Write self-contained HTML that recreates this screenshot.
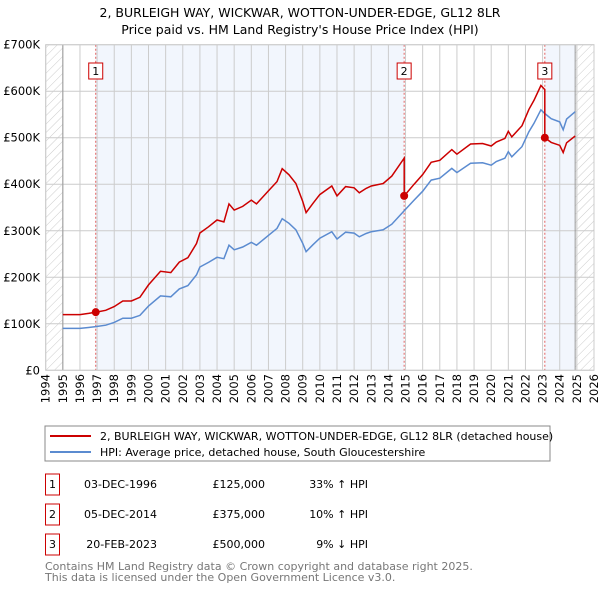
<!DOCTYPE html>
<html><head><meta charset="utf-8"><style>
body{margin:0;background:#fff;font-family:"DejaVu Sans","Liberation Sans",sans-serif;}
svg text{font-family:"DejaVu Sans","Liberation Sans",sans-serif;}
</style></head><body>
<svg id="c" width="600" height="590" viewBox="0 0 600 590" xmlns="http://www.w3.org/2000/svg">
<defs><pattern id="hatch" width="6" height="6" patternUnits="userSpaceOnUse" patternTransform="rotate(45)"><line x1="0" y1="0" x2="0" y2="6" stroke="#ccc" stroke-width="1"/></pattern></defs>
<text x="300" y="17" text-anchor="middle" font-size="12.5" fill="#000">2, BURLEIGH WAY, WICKWAR, WOTTON-UNDER-EDGE, GL12 8LR</text>
<text x="300" y="34" text-anchor="middle" font-size="12.5" fill="#000">Price paid vs. HM Land Registry's House Price Index (HPI)</text>
<g id="plot"></g>
<rect x="45" y="426" width="505" height="35" fill="#fff" stroke="#888"/>
<line x1="50" y1="436" x2="91" y2="436" stroke="#cc0000" stroke-width="2"/>
<text x="100" y="440" font-size="11">2, BURLEIGH WAY, WICKWAR, WOTTON-UNDER-EDGE, GL12 8LR (detached house)</text>
<line x1="50" y1="452" x2="91" y2="452" stroke="#5b8bd0" stroke-width="2"/>
<text x="100" y="456" font-size="11">HPI: Average price, detached house, South Gloucestershire</text>
<g font-size="11">
<g><rect x="45.5" y="474" width="14" height="21" fill="#fff" stroke="#cc0000"/><text x="52.5" y="488" text-anchor="middle">1</text><text x="157" y="488" text-anchor="end">03-DEC-1996</text><text x="265" y="488" text-anchor="end">£125,000</text><text x="368" y="488" text-anchor="end">33% ↑ HPI</text></g>
<g><rect x="45.5" y="504" width="14" height="21" fill="#fff" stroke="#cc0000"/><text x="52.5" y="518" text-anchor="middle">2</text><text x="157" y="518" text-anchor="end">05-DEC-2014</text><text x="265" y="518" text-anchor="end">£375,000</text><text x="368" y="518" text-anchor="end">10% ↑ HPI</text></g>
<g><rect x="45.5" y="534" width="14" height="21" fill="#fff" stroke="#cc0000"/><text x="52.5" y="548" text-anchor="middle">3</text><text x="157" y="548" text-anchor="end">20-FEB-2023</text><text x="265" y="548" text-anchor="end">£500,000</text><text x="368" y="548" text-anchor="end">9% ↓ HPI</text></g>
</g>
<text x="45" y="570" font-size="11" fill="#777">Contains HM Land Registry data © Crown copyright and database right 2025.</text>
<text x="45" y="581" font-size="11" fill="#777">This data is licensed under the Open Government Licence v3.0.</text>
</svg>
<script>
const hpiYears=[1995,1995.5,1996,1996.5,1996.92,1997.5,1998,1998.5,1999,1999.5,2000,2000.7,2001.3,2001.8,2002.3,2002.8,2003,2003.5,2004,2004.4,2004.7,2005,2005.5,2006,2006.3,2007,2007.5,2007.8,2008.2,2008.6,2009,2009.2,2009.6,2010,2010.7,2011,2011.5,2012,2012.3,2012.7,2013,2013.7,2014.2,2014.92,2015.5,2016,2016.5,2017,2017.7,2018,2018.8,2019.5,2020,2020.3,2020.8,2021,2021.2,2021.8,2022.2,2022.5,2022.9,2023.13,2023.5,2024,2024.2,2024.4,2024.9];
const hpiValues=[90,90,90,92,94,97,103,112,112,118,138,160,158,175,182,205,222,232,243,240,269,259,265,275,269,290,305,326,316,302,273,255,270,284,298,282,297,295,287,294,298,302,314,343,366,385,409,413,434,425,445,446,441,449,456,470,459,481,513,531,560,552,541,534,517,540,556];
const saleYears=[1996.92,2014.92,2023.13];
const salePrices=[125,375,500];
const saleLabels=["1","2","3"];
const yTicks=[0,100,200,300,400,500,600,700];
const yTickLabels=["£0","£100K","£200K","£300K","£400K","£500K","£600K","£700K"];
const xTicks=[1994,1995,1996,1997,1998,1999,2000,2001,2002,2003,2004,2005,2006,2007,2008,2009,2010,2011,2012,2013,2014,2015,2016,2017,2018,2019,2020,2021,2022,2023,2024,2025,2026];

const X0=45.7,X1=594,Y0=370.3,Y1=44.7;
const xs=y=>X0+(y-1994)/(2026-1994)*(X1-X0);
const ys=v=>Y0-v/700*(Y0-Y1);
const NS="http://www.w3.org/2000/svg";
const g=document.getElementById('plot');
function mk(t,a,p){const e=document.createElementNS(NS,t);for(const k in a)e.setAttribute(k,a[k]);(p||g).appendChild(e);return e;}
function hpiAt(t){for(let i=0;i<hpiYears.length-1;i++){if(t<=hpiYears[i+1]){const f=(t-hpiYears[i])/(hpiYears[i+1]-hpiYears[i]);return hpiValues[i]+f*(hpiValues[i+1]-hpiValues[i]);}}return hpiValues[hpiValues.length-1];}
const lastYear=hpiYears[hpiYears.length-1];
let e;
e=mk('rect',{x:X0,y:Y1,width:X1-X0,height:Y0-Y1,fill:'#fff'});


e=mk('rect',{x:xs(saleYears[0]),y:Y1,width:xs(saleYears[1])-xs(saleYears[0]),height:Y0-Y1,fill:'#f2f6fd'});


e=mk('rect',{x:xs(saleYears[2]),y:Y1,width:xs(lastYear)-xs(saleYears[2]),height:Y0-Y1,fill:'#f2f6fd'});


e=mk('rect',{x:X0,y:Y1,width:xs(1995)-X0,height:Y0-Y1,fill:'url(#hatch)'});


e=mk('rect',{x:xs(lastYear),y:Y1,width:X1-xs(lastYear),height:Y0-Y1,fill:'url(#hatch)'});


xTicks.forEach(t=>{
 e=mk('line',{x1:xs(t),x2:xs(t),y1:Y1,y2:Y0,stroke:'#ccc','stroke-width':1});
 
 
 e=mk('text',{x:0,y:0,'font-size':11.5,'text-anchor':'end',transform:`translate(${xs(t)+4},374) rotate(-90)`});
 e.textContent=t;
 
 
});
yTicks.forEach((t,i)=>{
 e=mk('line',{x1:X0,x2:X1,y1:ys(t),y2:ys(t),stroke:'#ccc','stroke-width':1});
 
 
 e=mk('text',{x:40,y:ys(t)+4,'font-size':11.5,'text-anchor':'end'});
 e.textContent=yTickLabels[i];
 
 
});
e=mk('line',{x1:xs(1995),x2:xs(1995),y1:Y1,y2:Y0,stroke:'#999'});


e=mk('line',{x1:xs(lastYear),x2:xs(lastYear),y1:Y1,y2:Y0,stroke:'#999'});


// sale markers lines
saleYears.forEach((s,i)=>{
 e=mk('line',{x1:xs(s),x2:xs(s),y1:Y1,y2:Y0,stroke:'#e06060','stroke-dasharray':'2,2','stroke-width':1});
 
 
});
// blue line
const bp=hpiYears.map((y,i)=>xs(y).toFixed(1)+','+ys(hpiValues[i]).toFixed(1)).join(' ');
e=mk('polyline',{points:bp,fill:'none',stroke:'#5b8bd0','stroke-width':1.5});


// red line: HPI scaled by most recent sale ratio
const ratios=saleYears.map((s,i)=>salePrices[i]/hpiAt(s));
function ratioIdx(t){let k=0;for(let i=0;i<saleYears.length;i++)if(t>=saleYears[i])k=i;return k;}
const rp=[];
hpiYears.forEach((y,i)=>{
 saleYears.forEach((s,j)=>{if(j>0&&s>hpiYears[i-1]&&s<=y){rp.push([s,hpiAt(s)*ratios[j-1]]);rp.push([s,salePrices[j]]);}});
 rp.push([y,hpiValues[i]*ratios[ratioIdx(y)]]);
});
e=mk('polyline',{points:rp.map(p=>xs(p[0]).toFixed(1)+','+ys(p[1]).toFixed(1)).join(' '),fill:'none',stroke:'#cc0000','stroke-width':1.5});


saleYears.forEach((s,i)=>{
 e=mk('circle',{cx:xs(s),cy:ys(salePrices[i]),r:4,fill:'#cc0000'});
 
 
 e=mk('rect',{x:xs(s)-7,y:63,width:14,height:16,fill:'#fff',stroke:'#cc0000'});
 
 
 e=mk('text',{x:xs(s),y:75,'font-size':11,'text-anchor':'middle'});
 e.textContent=saleLabels[i];
 
 
});
e=mk('rect',{x:X0,y:Y1,width:X1-X0,height:Y0-Y1,fill:'none',stroke:'#ccc'});


</script>
</body></html>
